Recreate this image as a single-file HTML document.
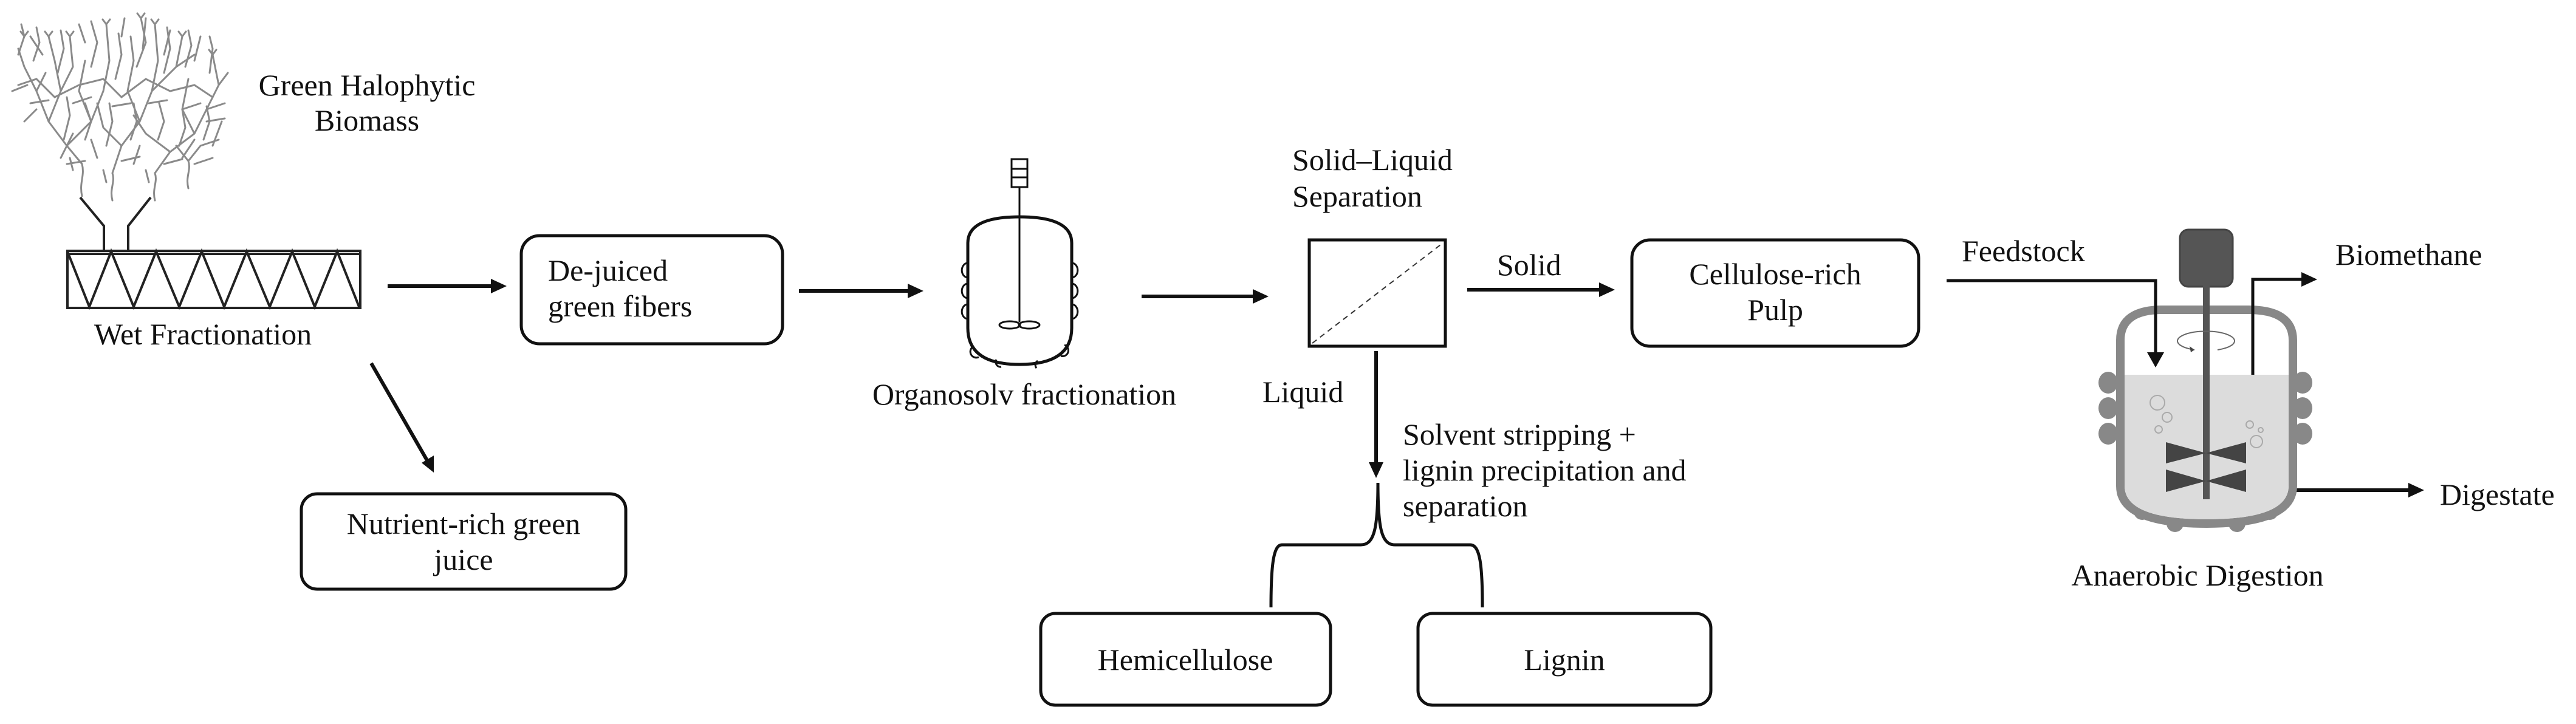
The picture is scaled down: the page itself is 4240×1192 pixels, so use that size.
<!DOCTYPE html>
<html><head><meta charset="utf-8"><style>
html,body{margin:0;padding:0;background:#fff}
svg{display:block}
text{font-family:"Liberation Serif","DejaVu Serif",serif;font-size:50px;fill:#111}
</style></head><body>
<svg width="4240" height="1192" viewBox="0 0 4240 1192" xmlns="http://www.w3.org/2000/svg" font-family="Liberation Serif, serif">
<!-- tree -->
<g stroke="#8a8a8a" stroke-width="3" fill="none" stroke-linecap="round">
<path d="M135 323 C130 300 140 290 135 270 L110 240 L80 200 L60 150 L40 110 M80 200 L100 150 L90 100 L80 60 M100 150 L120 110 L115 60 M110 240 L150 200 L170 150 L180 100 L175 40 M150 200 L130 150 L140 100 M40 110 L30 80 M60 150 L75 120"/>
<path d="M185 330 C180 310 190 300 185 285 L200 240 L230 200 L250 150 L260 100 L255 40 M230 200 L210 150 L220 100 L215 60 M200 240 L170 210 L160 170 M250 150 L290 110 L300 60 M290 110 L320 90"/>
<path d="M255 330 C250 310 260 300 255 285 L280 250 L320 220 L340 180 L360 140 L350 90 M320 220 L300 180 L310 130 M280 250 L240 220 L220 190 M340 180 L370 170 M360 140 L375 120"/>
<path d="M310 310 C305 290 315 280 310 265 L330 240 L360 230 M310 265 L290 240 M30 140 L60 130 L90 160 L130 140 L170 130 L200 160 L240 130 L280 150 L320 140 L350 160"/>
<path d="M50 60 L70 90 M130 40 L140 70 M200 60 L205 30 M240 30 L235 80 M280 50 L270 90 M330 60 L320 100 M60 180 L40 200 M100 260 L120 220 M160 260 L150 230 M220 270 L230 240 M300 260 L320 230 M350 240 L365 200"/>
<path d="M30 90 L40 60 L35 40 M55 100 L65 70 L60 45 M95 120 L105 80 L100 50 M150 110 L160 70 L150 35 M190 130 L200 90 L195 55 M225 110 L240 70 L232 30 M270 120 L280 80 L275 45 M305 110 L315 75 L310 50 M345 120 L350 80 L345 60"/>
<path d="M105 230 L115 190 L110 160 M140 230 L150 200 L140 170 M175 240 L185 200 L180 170 M215 230 L225 200 L220 170 M260 230 L270 200 L262 170 M295 240 L305 210 L300 180 M335 230 L345 200 L340 175 M115 260 L120 280 M170 280 L175 300 M240 280 L245 300"/>
<path d="M20 150 L45 140 M50 170 L80 165 M120 170 L150 160 M185 175 L215 170 M245 170 L275 165 M300 180 L330 170 M340 200 L370 195 M110 270 L140 265 M200 265 L230 258 M270 270 L300 262 M320 270 L350 260"/>
<path d="M40 60 l-6 -8 M40 60 l6 -8 M80 60 l-6 -8 M80 60 l6 -8 M175 40 l-6 -8 M175 40 l6 -8 M255 40 l-6 -8 M255 40 l6 -8 M300 60 l-6 -8 M300 60 l6 -8 M350 90 l-6 -8 M350 90 l6 -8 M115 60 l-6 -8 M115 60 l6 -8 M232 30 l-6 -8 M232 30 l6 -8"/>
</g>
<!-- funnel -->
<g stroke="#222" stroke-width="4" fill="none">
<path d="M132 325 L171 372 L171 414"/>
<path d="M248 325 L211 372 L211 414"/>
</g>
<!-- conveyor -->
<g stroke="#222" stroke-width="4" fill="none">
<rect x="111" y="413" width="482" height="94"/>
<line x1="111" y1="418" x2="593" y2="418"/>
<polyline points="111,414 147,505 183,414 220,505 257,414 295,505 332,414 369,505 406,414 444,505 481,414 518,505 555,414 591,505"/>
</g>
<text x="334" y="567" text-anchor="middle">Wet Fractionation</text>
<text x="604" y="157" text-anchor="middle">Green Halophytic</text>
<text x="604" y="215" text-anchor="middle">Biomass</text>
<!-- arrows -->
<g stroke="#111" stroke-width="6" fill="none">
<line x1="638" y1="471" x2="812" y2="471"/>
<line x1="1315" y1="479" x2="1498" y2="479"/>
<line x1="1879" y1="488" x2="2066" y2="488"/>
<line x1="611" y1="598" x2="703" y2="758"/>
<line x1="2415" y1="477" x2="2636" y2="477"/>
<line x1="2265" y1="578" x2="2265" y2="765"/>
<line x1="3780" y1="807" x2="3966" y2="807"/>
</g>
<g fill="#111">
<polygon points="834,471 808,459 808,483"/>
<polygon points="1520,479 1494,467 1494,491"/>
<polygon points="2088,488 2062,476 2062,500"/>
<polygon points="714,778 694,762 714,750"/>
<polygon points="2658,477 2632,465 2632,489"/>
<polygon points="2265,787 2253,761 2277,761"/>
<polygon points="3990,807 3964,795 3964,819"/>
</g>
<!-- boxes -->
<g stroke="#111" stroke-width="5" fill="none">
<rect x="858" y="388" width="430" height="178" rx="30"/>
<rect x="496" y="813" width="534" height="157" rx="26"/>
<rect x="1713" y="1010" width="477" height="151" rx="24"/>
<rect x="2334" y="1010" width="482" height="151" rx="24"/>
<rect x="2686" y="395" width="472" height="175" rx="30"/>
<rect x="2155" y="395" width="224" height="175" stroke-width="5"/>
</g>
<line x1="2160" y1="565" x2="2375" y2="400" stroke="#333" stroke-width="2" stroke-dasharray="9,7"/>
<text x="902" y="462">De-juiced</text>
<text x="902" y="521">green fibers</text>
<text x="763" y="879" text-anchor="middle">Nutrient-rich green</text>
<text x="763" y="938" text-anchor="middle">juice</text>
<text x="1951" y="1103" text-anchor="middle">Hemicellulose</text>
<text x="2575" y="1103" text-anchor="middle">Lignin</text>
<text x="2922" y="468" text-anchor="middle">Cellulose-rich</text>
<text x="2922" y="527" text-anchor="middle">Pulp</text>
<text x="2127" y="280">Solid–Liquid</text>
<text x="2127" y="340">Separation</text>
<text x="2464" y="453">Solid</text>
<text x="2078" y="662">Liquid</text>
<text x="2309" y="732">Solvent stripping +</text>
<text x="2309" y="791">lignin precipitation and</text>
<text x="2309" y="850">separation</text>
<text x="1686" y="666" text-anchor="middle">Organosolv fractionation</text>
<!-- brace -->
<path d="M2268 795 C2268 870 2262 897 2240 897 L2110 897 C2096 897 2092 930 2092 1000 M2268 795 C2268 870 2274 897 2296 897 L2420 897 C2436 897 2440 930 2440 1000" stroke="#111" stroke-width="5" fill="none"/>
<!-- organosolv reactor -->
<g stroke="#111" stroke-width="5" fill="none">
<path d="M1593 400 Q1593 357 1678 357 Q1764 357 1764 400 L1764 540 Q1764 600 1678 600 Q1593 600 1593 540 Z"/>
<line x1="1678" y1="308" x2="1678" y2="530" stroke-width="3"/>
<rect x="1665" y="262" width="26" height="46" stroke-width="3"/>
<line x1="1665" y1="278" x2="1691" y2="278" stroke-width="3"/>
<line x1="1665" y1="292" x2="1691" y2="292" stroke-width="3"/>
<ellipse cx="1662" cy="535" rx="17" ry="6" stroke-width="3"/>
<ellipse cx="1694" cy="535" rx="17" ry="6" stroke-width="3"/>
<path d="M1593 433 a9 11 0 0 0 0 24 M1593 467 a9 11 0 0 0 0 24 M1593 501 a9 11 0 0 0 0 24" stroke-width="3"/>
<path d="M1764 433 a9 11 0 0 1 0 24 M1764 467 a9 11 0 0 1 0 24 M1764 501 a9 11 0 0 1 0 24" stroke-width="3"/>
<path d="M1603 570 a9 9 0 0 0 8 18 M1640 592 a8 8 0 0 0 8 12 M1708 594 a8 8 0 0 0 -2 12 M1752 568 a9 9 0 0 1 -6 18" stroke-width="3"/>
</g>
<!-- anaerobic digester -->
<g>
<g fill="#888">
<ellipse cx="3470" cy="630" rx="16" ry="18"/><ellipse cx="3470" cy="672" rx="16" ry="18"/><ellipse cx="3470" cy="714" rx="16" ry="18"/>
<ellipse cx="3790" cy="630" rx="16" ry="18"/><ellipse cx="3790" cy="672" rx="16" ry="18"/><ellipse cx="3790" cy="714" rx="16" ry="18"/>
<circle cx="3498" cy="810" r="14"/><circle cx="3526" cy="842" r="14"/><circle cx="3580" cy="862" r="14"/><circle cx="3682" cy="862" r="14"/><circle cx="3736" cy="842" r="14"/><circle cx="3764" cy="810" r="14"/>
</g>
<path d="M3490 560 Q3490 510 3560 510 L3700 510 Q3774 510 3774 560 L3774 800 Q3774 862 3632 862 Q3490 862 3490 800 Z" fill="#fff" stroke="#888" stroke-width="14"/>
<path d="M3497 617 L3767 617 L3767 800 Q3767 855 3632 855 Q3497 855 3497 800 Z" fill="#dcdcdc"/>
<g fill="none" stroke="#aaa" stroke-width="2"><circle cx="3551" cy="663" r="12"/><circle cx="3567" cy="687" r="8"/><circle cx="3553" cy="707" r="6"/><circle cx="3703" cy="699" r="6"/><circle cx="3721" cy="708" r="4"/><circle cx="3714" cy="727" r="10"/></g>
<rect x="3588" y="378" width="87" height="94" rx="14" fill="#555" stroke="#444" stroke-width="3"/>
<rect x="3626" y="470" width="11" height="352" fill="#555"/>
<polygon points="3565,728 3631,746 3565,763" fill="#444"/><polygon points="3697,728 3631,746 3697,763" fill="#444"/>
<polygon points="3565,773 3631,792 3565,810" fill="#444"/><polygon points="3697,773 3631,792 3697,810" fill="#444"/>
<path d="M3612 576 A47 16 0 1 1 3650 576" fill="none" stroke="#666" stroke-width="2"/>
<polygon points="3612,576 3604,570 3606,580" fill="#444"/>
</g>
<g stroke="#111" stroke-width="5" fill="none">
<polyline points="3204,462 3548,462 3548,585"/>
<polyline points="3708,617 3708,460 3790,460"/>
</g>
<polygon points="3548,605 3534,580 3562,580" fill="#111"/>
<polygon points="3814,460 3788,448 3788,472" fill="#111"/>
<text x="3229" y="430">Feedstock</text>
<text x="3844" y="436">Biomethane</text>
<text x="4016" y="831">Digestate</text>
<text x="3617" y="964" text-anchor="middle">Anaerobic Digestion</text>
</svg>
</body></html>
